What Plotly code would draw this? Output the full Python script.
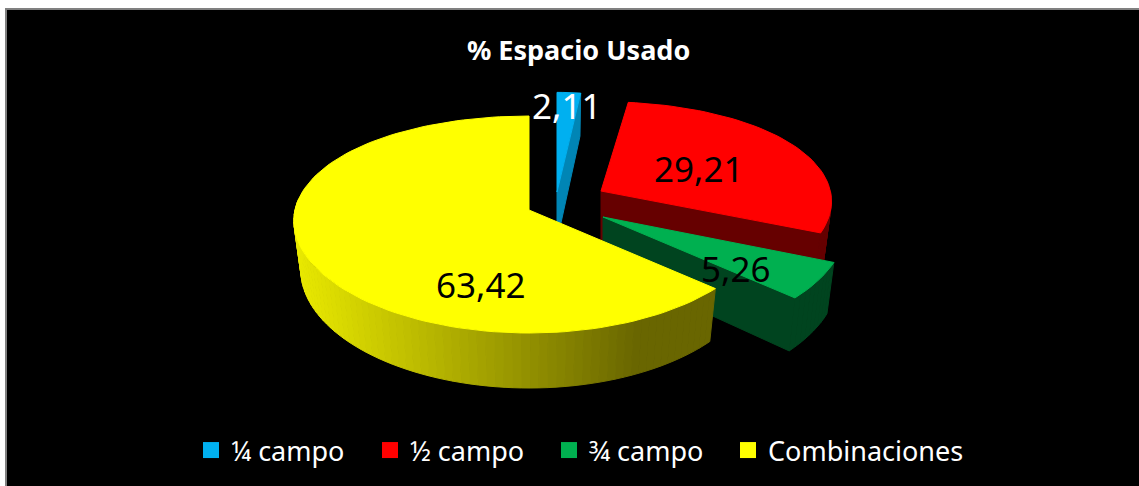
import math
import plotly.graph_objects as go

# data
categories = ["¼ campo", "½ campo", "¾ campo", "Combinaciones"]
values = [2.11, 29.21, 5.26, 63.42]
title_text = "% Espacio Usado"

# styles
top_colors = ["#00B0F0", "#FF0000", "#00B050", "#FFFF00"]
side_colors = ["#0085B5", "#660000", "#00441F", None]
label_colors = ["white", "black", "black", "black"]
label_pos = [(566, 105), (698, 168), (735, 268), (480, 284)]
# slice centre and scale of the drawn 3D pie (exploded slices)
centers = [(557, 192), (601, 191), (603, 217), (529, 210)]
scales = [(0.85, 1.06), (0.98, 0.95), (1.03, 1.03), (1.0, 1.0)]


def proj(theta, cx, cy, s):
    X, Y = math.sin(theta), math.cos(theta)
    return (cx + s[0] * 234 * X * (1 - 0.10 * Y), cy + s[1] * (-108.5 * Y + 14.5 * Y * Y))


def drop(pt, theta, cx):
    return (cx + (pt[0] - cx) * 0.97, pt[1] + 49 - 6 * math.cos(theta))


def poly(fig, pts, color):
    fig.add_trace(go.Scatter(
        x=[p[0] for p in pts] + [pts[0][0]],
        y=[p[1] for p in pts] + [pts[0][1]],
        mode="lines", fill="toself", fillcolor=color,
        line=dict(color=color, width=1), hoverinfo="skip", showlegend=False))


def mix(x):
    t = min(1.0, max(0.0, (x - 300) / (640 - 300)))
    return "rgb(%d,%d,0)" % (232 - t * 127, 232 - t * 130)


fig = go.Figure()
total = sum(values)
start = 0.0
spans = []
for v in values:
    end = start + v / total * 2 * math.pi
    spans.append((start, end))
    start = end

for i, (a, b) in enumerate(spans):
    cx, cy = centers[i]
    s = scales[i]
    n = max(4, int((b - a) / math.radians(2)))
    thetas = [a + (b - a) * k / n for k in range(n + 1)]
    apex = (cx, cy)
    apex_low = (cx, cy + 49)
    # cut faces
    if i in (0, 1, 2):
        r = proj(b, cx, cy, s)
        poly(fig, [apex, r, drop(r, b, cx), apex_low], side_colors[i])
    # rim
    for t0, t1 in zip(thetas, thetas[1:]):
        if math.cos((t0 + t1) / 2) < 0 and math.sin((t0 + t1) / 2) > -0.995 or (i == 3 and t0 < math.radians(275)):
            p0, p1 = proj(t0, cx, cy, s), proj(t1, cx, cy, s)
            col = side_colors[i] or mix((p0[0] + p1[0]) / 2)
            poly(fig, [p0, p1, drop(p1, t1, cx), drop(p0, t0, cx)], col)
    # top
    poly(fig, [apex] + [proj(t, cx, cy, s) for t in thetas], top_colors[i])

for name, col in zip(categories, top_colors):
    fig.add_trace(go.Scatter(x=[None], y=[None], mode="markers", name=name,
                             marker=dict(symbol="square", size=17, color=col), hoverinfo="skip"))
# blank spacer so the fixed-width legend does not clip the longest entry
fig.add_trace(go.Scatter(x=[None], y=[None], mode="markers", name="\u00a0",
                         marker=dict(symbol="square", size=1, color="rgba(0,0,0,0)"), hoverinfo="skip"))

annotations = [dict(x=p[0], y=p[1], text=f"{v:.2f}".replace(".", ","), showarrow=False,
                    font=dict(family="Noto Sans", size=35, color=c), xanchor="center", yanchor="middle")
               for v, c, p in zip(values, label_colors, label_pos)]
annotations.append(dict(x=578, y=49, text=f"<b>{title_text}</b>", showarrow=False,
                        font=dict(family="Noto Sans", size=27, color="white"),
                        xanchor="center", yanchor="middle"))

fig.update_layout(
    width=1139, height=486, autosize=False,
    margin=dict(l=0, r=0, t=0, b=0, autoexpand=False),
    paper_bgcolor="white", plot_bgcolor="white",
    xaxis=dict(range=[0, 1139], visible=False, fixedrange=True),
    yaxis=dict(range=[486, 0], visible=False, fixedrange=True),
    shapes=[dict(type="rect", x0=6, y0=9, x1=1145, y1=492, layer="below",
                 fillcolor="black", line=dict(color="#808080", width=2))],
    annotations=annotations,
    legend=dict(orientation="h", x=191 / 1139, xanchor="left", y=1 - 426 / 486, yanchor="top",
                bgcolor="rgba(0,0,0,0)", font=dict(family="Noto Sans", size=27, color="white"),
                entrywidth=134, entrywidthmode="pixels", itemwidth=30),
)
fig.write_html("out.html", config={"displayModeBar": False},
               post_script="document.body.style.margin='0';document.body.style.overflow='hidden';")
